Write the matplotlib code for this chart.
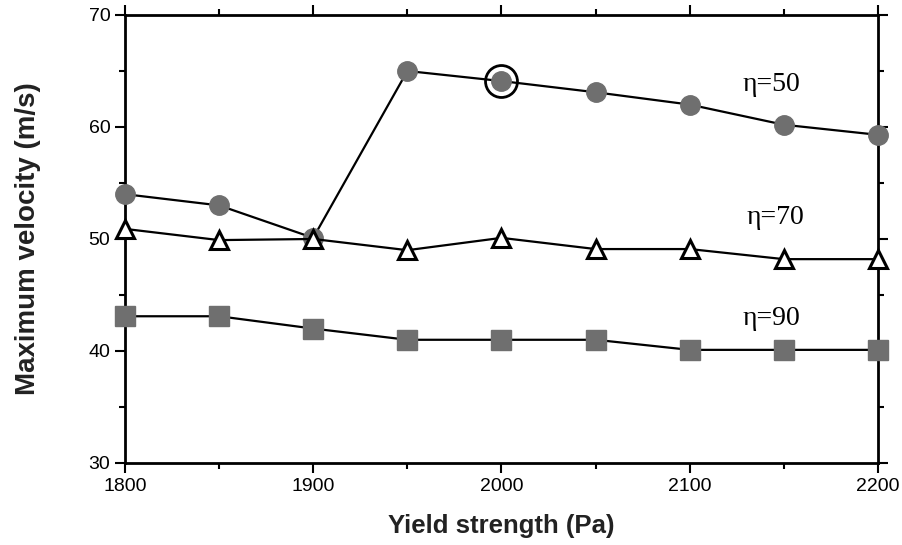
import numpy as np
import matplotlib.pyplot as plt
from matplotlib.ticker import MultipleLocator

# yield strength (Pa)
yield_strength = [1800, 1850, 1900, 1950, 2000, 2050, 2100, 2150, 2200]
# maximum velocity (m/s) for each viscosity
v_eta50 = [54.0, 53.0, 50.1, 65.0, 64.1, 63.1, 62.0, 60.2, 59.3]
v_eta70 = [50.9, 49.9, 50.0, 49.0, 50.1, 49.1, 49.1, 48.2, 48.2]
v_eta90 = [43.1, 43.1, 42.0, 41.0, 41.0, 41.0, 40.1, 40.1, 40.1]
# highlighted point
hl_x, hl_y = 2000, 64.1

grey = '#6f6f6f'

fig = plt.figure(figsize=(9.03, 5.45), dpi=100)
ax = fig.add_axes([0.1384, 0.1505, 0.8339, 0.822])

ax.plot(yield_strength, v_eta50, '-', color='black', lw=1.6, marker='o', ms=14,
        mfc=grey, mec=grey, zorder=3, clip_on=False)
ax.plot(yield_strength, v_eta70, '-', color='black', lw=1.6, marker='^', ms=13,
        mfc='white', mec='black', mew=2.2, zorder=3, clip_on=False)
ax.plot(yield_strength, v_eta90, '-', color='black', lw=1.6, marker='s', ms=14,
        mfc=grey, mec=grey, zorder=3, clip_on=False)
ax.plot([hl_x], [hl_y], 'o', ms=23, mfc='none', mec='black', mew=2, zorder=4)

ax.text(2128, 63.8, 'η=50', family='Liberation Serif', fontsize=20, va='center')
ax.text(2130, 51.9, 'η=70', family='Liberation Serif', fontsize=20, va='center')
ax.text(2128, 42.9, 'η=90', family='Liberation Serif', fontsize=20, va='center')

ax.set_xlim(1800, 2200)
ax.set_ylim(30, 70)
ax.xaxis.set_major_locator(MultipleLocator(100))
ax.xaxis.set_minor_locator(MultipleLocator(50))
ax.yaxis.set_major_locator(MultipleLocator(10))
ax.yaxis.set_minor_locator(MultipleLocator(5))
ax.tick_params(which='both', direction='out', top=True, right=True, width=1.5,
               labelsize=14, labelfontfamily='Liberation Sans')
ax.tick_params(which='major', length=7)
ax.tick_params(which='minor', length=4)
for s in ax.spines.values():
    s.set_linewidth(2)

ax.set_xlabel('Yield strength (Pa)', family='Liberation Sans', fontweight='bold',
              fontsize=18.5, labelpad=14, color='#222222')
ax.set_ylabel('Maximum velocity (m/s)', family='Liberation Sans', fontweight='bold',
              fontsize=20, labelpad=34, color='#222222')

plt.savefig('out.png', dpi=100)
